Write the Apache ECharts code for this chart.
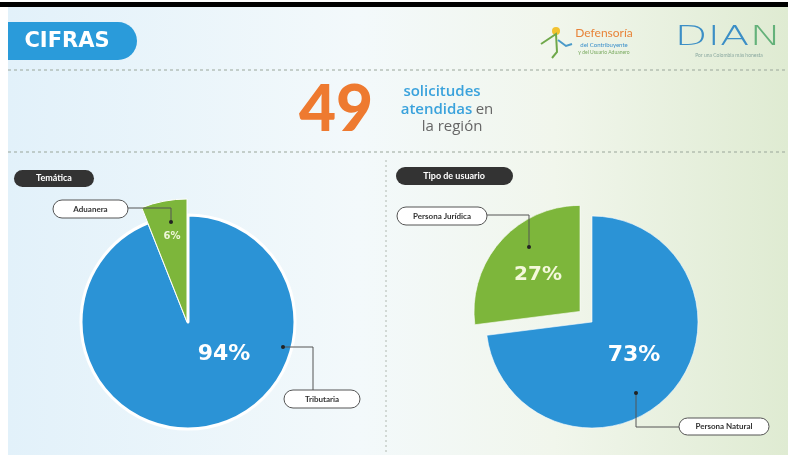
<!DOCTYPE html>
<html><head><meta charset="utf-8">
<script src="https://cdn.jsdelivr.net/npm/echarts@6/dist/echarts.min.js"></script>
<style>html,body{margin:0;padding:0;background:#fff}#c{width:788px;height:455px}</style>
</head><body><div id="c"></div>
<script>
// ---- data ----
const headerTitle = 'CIFRAS';
const totalRequests = 49;
const temTitle = 'Temática';
const temCats = ['Tributaria', 'Aduanera'];
const temVals = [94, 6];
const usrTitle = 'Tipo de usuario';
const usrCats = ['Persona Natural', 'Persona Jurídica'];
const usrVals = [73, 27];

const BLUE = '#2B93D6', GREEN = '#7DB63B', FONT = 'Lato, "Open Sans", sans-serif';
const WIDE = '"DejaVu Sans", sans-serif';
const chart = echarts.init(document.getElementById('c'), null, {renderer: 'canvas'});

function pctLayout(pos) {
  return function (p) {
    const q = pos[p.dataIndex];
    if (!q) return {};
    return {x: q[0], y: q[1], align: 'center', verticalAlign: 'middle'};
  };
}
function lbl(size) {
  return {show: true, position: 'inside', formatter: '{d}%', color: '#fff',
    fontFamily: WIDE, fontWeight: 'bold', fontSize: size};
}

const leftBlue = {
  type: 'pie', center: [188, 322], radius: [0, 107], startAngle: 90, silent: true,
  animation: false, z: 2, labelLine: {show: false},
  labelLayout: pctLayout({0: [224, 354]}),
  data: temCats.map((n, i) => ({
    name: n, value: temVals[i],
    itemStyle: i === 0 ? {color: BLUE, borderColor: '#fff', borderWidth: 3} : {color: 'rgba(0,0,0,0)', borderWidth: 0},
    label: i === 0 ? lbl(22) : {show: false}
  }))
};
const leftGreen = {
  type: 'pie', center: [187, 322], radius: [0, 123], startAngle: 90, silent: true,
  animation: false, z: 3, labelLine: {show: false},
  labelLayout: pctLayout({1: [172, 236]}),
  data: temCats.map((n, i) => ({
    name: n, value: temVals[i],
    itemStyle: i === 1 ? {color: GREEN, borderColor: '#fff', borderWidth: 1} : {color: 'rgba(0,0,0,0)', borderWidth: 0},
    label: i === 1 ? Object.assign(lbl(10), {color: '#eef6d8'}) : {show: false}
  }))
};
const right = {
  type: 'pie', center: [592, 322], radius: [0, 106], startAngle: 90, silent: true,
  animation: false, z: 2, labelLine: {show: false},
  selectedMode: 'single', selectedOffset: 16,
  labelLayout: pctLayout({0: [634, 355], 1: [539, 273]}),
  data: usrCats.map((n, i) => ({
    name: n, value: usrVals[i], selected: i === 1,
    itemStyle: {color: i === 0 ? BLUE : GREEN, borderColor: 'rgba(255,255,255,0.6)', borderWidth: 1},
    label: Object.assign(lbl(i === 0 ? 22 : 20), i === 1 ? {color: '#f4f8dc'} : {})
  }))
};

function callout(text, box, pts) {
  const [x, y, w, h] = box;
  return [
    {type: 'polyline', shape: {points: pts}, style: {stroke: '#555', lineWidth: 1, fill: null}, z: 20},
    {type: 'circle', shape: {cx: pts[pts.length - 1][0], cy: pts[pts.length - 1][1], r: 2}, style: {fill: '#222'}, z: 21},
    {type: 'rect', shape: {x, y, width: w, height: h, r: h / 2}, style: {fill: '#fff', stroke: '#555', lineWidth: 1}, z: 22},
    {type: 'text', x: x + w / 2, y: y + h / 2, z: 23,
      style: {text, fill: '#333', fontSize: 8, fontFamily: FONT, fontWeight: 700, align: 'center', verticalAlign: 'middle'}}
  ];
}
function dashH(y, x1, x2) {
  return {type: 'line', shape: {x1, y1: y, x2, y2: y}, style: {stroke: '#9aa69a', lineWidth: 1, lineDash: [3, 3]}, z: 1};
}

const graphic = [
  {type: 'rect', shape: {x: 8, y: 7, width: 780, height: 448}, z: 0, silent: true,
    style: {fill: new echarts.graphic.LinearGradient(0, 0, 1, 0, [
      {offset: 0, color: '#E2F1FA'}, {offset: 0.45, color: '#F3F9FB'},
      {offset: 0.7, color: '#F1F6EC'}, {offset: 1, color: '#DFEBD2'}])}},
  {type: 'rect', shape: {x: 0, y: 2, width: 788, height: 5}, style: {fill: '#000'}, z: 1},
  // header pill
  {type: 'rect', shape: {x: 8, y: 22, width: 129, height: 38, r: [0, 19, 19, 0]}, style: {fill: '#2A9BDA'}, z: 2},
  {type: 'text', x: 67, y: 42, z: 3, style: {text: headerTitle, fill: '#fff', fontSize: 21, fontWeight: 'bold',
    fontFamily: WIDE, align: 'center', verticalAlign: 'middle'}},
  dashH(70, 8, 788), dashH(152, 8, 788),
  {type: 'line', shape: {x1: 386, y1: 160, x2: 386, y2: 455}, style: {stroke: '#b0b8b0', lineWidth: 1, lineDash: [2, 3]}, z: 1},
  // big number
  {type: 'text', x: 336, y: 110, z: 3, style: {text: String(totalRequests), fill: '#EE7A30', fontSize: 64, fontWeight: 900,
    fontFamily: FONT, align: 'center', verticalAlign: 'middle'}},
  {type: 'text', x: 442, y: 92, z: 3, style: {text: 'solicitudes', fill: '#3AA2DC', fontSize: 15, fontWeight: 600,
    fontFamily: '"Open Sans", sans-serif', align: 'center', verticalAlign: 'middle'}},
  {type: 'text', x: 447, y: 110, z: 3, style: {text: '{b|atendidas} {g|en}', align: 'center', verticalAlign: 'middle',
    rich: {b: {fill: '#3AA2DC', fontSize: 15, fontWeight: 600, fontFamily: '"Open Sans", sans-serif'},
      g: {fill: '#666', fontSize: 15, fontWeight: 400, fontFamily: '"Open Sans", sans-serif'}}}},
  {type: 'text', x: 452, y: 127, z: 3, style: {text: 'la región', fill: '#666', fontSize: 15, fontWeight: 400,
    fontFamily: '"Open Sans", sans-serif', align: 'center', verticalAlign: 'middle'}},
  // logos
  {type: 'circle', shape: {cx: 556, cy: 31, r: 4}, style: {fill: '#F2C230'}, z: 3},
  {type: 'polyline', shape: {points: [[541, 44], [550, 38], [556, 34], [557, 52], [552, 58]]}, style: {stroke: '#6FA84A', lineWidth: 2, fill: null}, z: 3},
  {type: 'polyline', shape: {points: [[558, 40], [566, 46], [572, 44]]}, style: {stroke: '#4A9AC9', lineWidth: 2, fill: null}, z: 3},
  {type: 'text', x: 604, y: 33, z: 3, style: {text: 'Defensoría', fill: '#E8843A', fontSize: 12, fontWeight: 400,
    fontFamily: FONT, align: 'center', verticalAlign: 'middle'}},
  {type: 'text', x: 604, y: 45, z: 3, style: {text: 'del Contribuyente', fill: '#3A8FCB', fontSize: 6, fontFamily: FONT, align: 'center', verticalAlign: 'middle'}},
  {type: 'text', x: 604, y: 52, z: 3, style: {text: 'y del Usuario Aduanero', fill: '#7AAA60', fontSize: 5, fontFamily: FONT, align: 'center', verticalAlign: 'middle'}},
  {type: 'text', x: 728, y: 38, scaleX: 1.65, z: 3, style: {text: '{b|DIA}{g|N}', align: 'center', verticalAlign: 'middle',
    rich: {b: {fill: '#3C8FC6', fontSize: 26, fontWeight: 200, fontFamily: '"DejaVu Sans", sans-serif'},
      g: {fill: '#64B27A', fontSize: 26, fontWeight: 200, fontFamily: '"DejaVu Sans", sans-serif'}}}},
  {type: 'text', x: 729, y: 55, z: 3, style: {text: 'Por una Colombia más honesta', fill: '#8AA8A0', fontSize: 5, fontFamily: FONT, align: 'center', verticalAlign: 'middle'}},
  // section pills
  {type: 'rect', shape: {x: 14, y: 170, width: 80, height: 17, r: 8.5}, style: {fill: '#333'}, z: 3},
  {type: 'text', x: 54, y: 178.5, z: 4, style: {text: temTitle, fill: '#fff', fontSize: 9, fontWeight: 700, fontFamily: FONT, align: 'center', verticalAlign: 'middle'}},
  {type: 'rect', shape: {x: 396, y: 167, width: 117, height: 18, r: 9}, style: {fill: '#333'}, z: 3},
  {type: 'text', x: 454, y: 176, z: 4, style: {text: usrTitle, fill: '#fff', fontSize: 9, fontWeight: 700, fontFamily: FONT, align: 'center', verticalAlign: 'middle'}},
  ...callout(temCats[1], [53, 200, 75, 18], [[128, 208], [171, 208], [171, 222]]),
  ...callout(temCats[0], [284, 390, 76, 18], [[313, 390], [313, 347], [283, 347]]),
  ...callout(usrCats[1], [397, 207, 90, 18], [[487, 215], [529, 215], [529, 247]]),
  ...callout(usrCats[0], [679, 418, 90, 17], [[679, 427], [636, 427], [636, 393]])
];

chart.setOption({animation: false, graphic, series: [leftBlue, leftGreen, right]});
</script></body></html>
